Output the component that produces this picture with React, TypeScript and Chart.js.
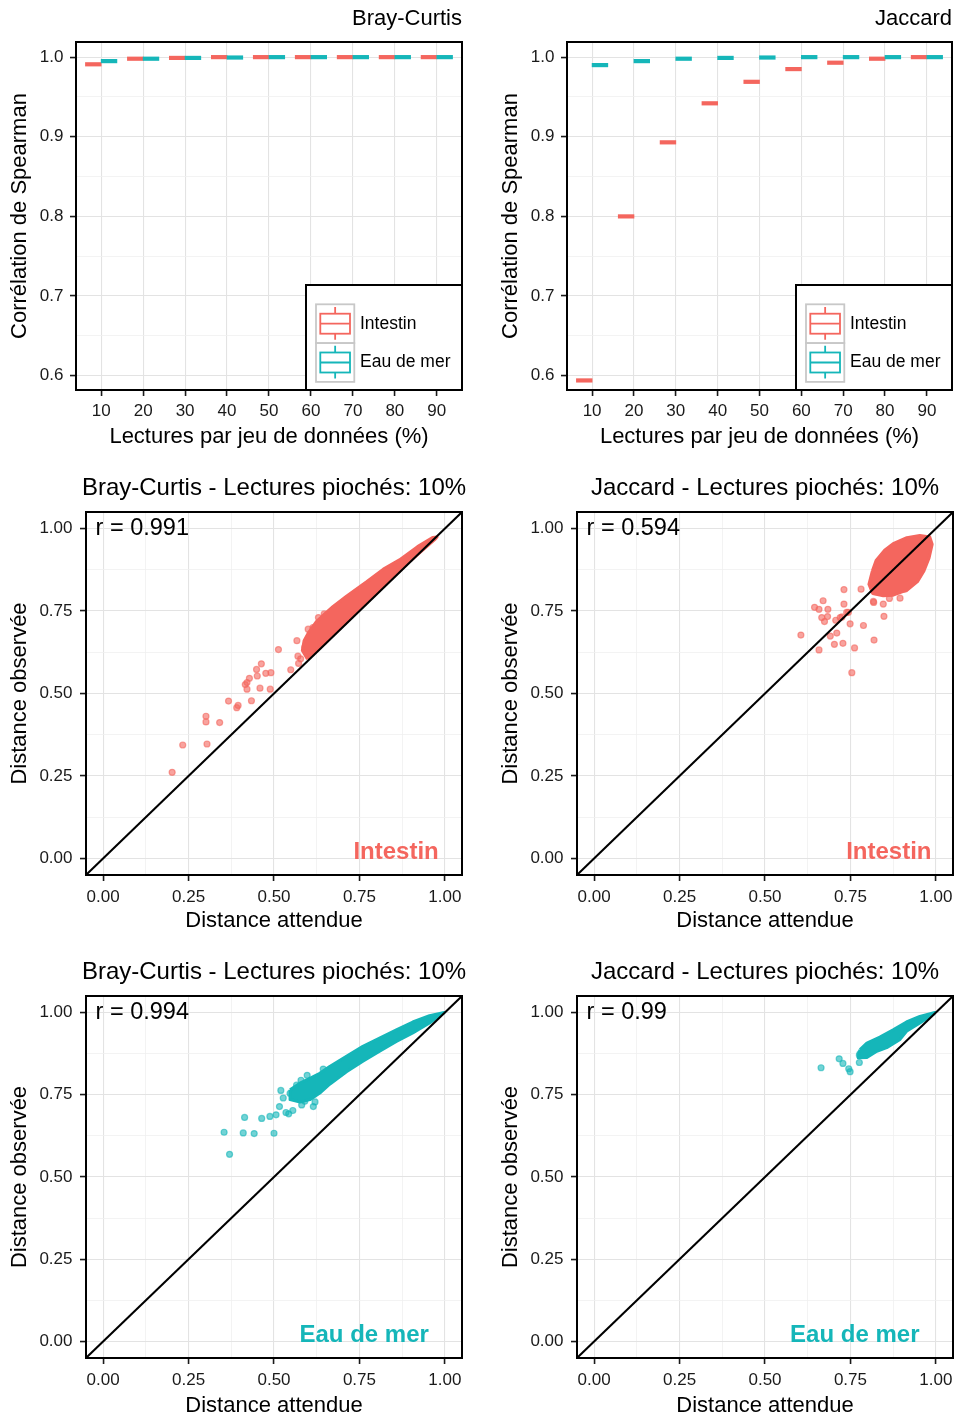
import React, { useEffect, useRef } from "react";
import { Chart, registerables } from "chart.js";

Chart.register(...registerables);

// ------------------------------------------------------------------ data
const PCT = [10, 20, 30, 40, 50, 60, 70, 80, 90];
const PCT_LABELS = ["10", "20", "30", "40", "50", "60", "70", "80", "90"];

// medians of Spearman correlation (boxes collapsed to a line)
const BC_INTESTIN = [0.991, 0.998, 0.999, 1.0, 1.0, 1.0, 1.0, 1.0, 1.0];
const BC_EAU = [0.995, 0.998, 0.999, 0.9995, 1.0, 1.0, 1.0, 1.0, 1.0];
const JAC_INTESTIN = [0.594, 0.8, 0.893, 0.942, 0.969, 0.985, 0.993, 0.998, 1.0];
const JAC_EAU = [0.99, 0.995, 0.998, 0.999, 0.9995, 1.0, 1.0, 1.0, 1.0];

const SPEAR_MAJOR = [0.6, 0.7, 0.8, 0.9, 1.0];
const SPEAR_MINOR = [0.65, 0.75, 0.85, 0.95];
const SPEAR_LABELS = ["0.6", "0.7", "0.8", "0.9", "1.0"];

const DIST_MAJOR = [0, 0.25, 0.5, 0.75, 1];
const DIST_MINOR = [0.125, 0.375, 0.625, 0.875];
const DIST_LABELS = ["0.00", "0.25", "0.50", "0.75", "1.00"];

const R_VALUES = [0.991, 0.594, 0.994, 0.99];

// Bray-Curtis / Intestin
const BC_INT_CLOUD: [number, number][] = [
  [0.598, 0.604], [0.583, 0.63], [0.588, 0.66], [0.6, 0.683], [0.624, 0.718],
  [0.65, 0.743], [0.673, 0.764], [0.712, 0.795], [0.77, 0.838], [0.82, 0.877],
  [0.867, 0.905], [0.92, 0.945], [0.964, 0.973], [0.977, 0.974], [0.97, 0.966],
  [0.9, 0.903], [0.8, 0.804], [0.7, 0.704], [0.64, 0.644], [0.598, 0.604],
];
const BC_INT_POINTS: [number, number][] = [
  [0.202, 0.261], [0.233, 0.344], [0.301, 0.431], [0.301, 0.414], [0.304, 0.347],
  [0.341, 0.412], [0.367, 0.477], [0.391, 0.457], [0.395, 0.464], [0.434, 0.478],
  [0.416, 0.527], [0.421, 0.533], [0.421, 0.513], [0.428, 0.546], [0.449, 0.573],
  [0.451, 0.553], [0.463, 0.59], [0.459, 0.516], [0.476, 0.561], [0.491, 0.563],
  [0.489, 0.513], [0.513, 0.633], [0.549, 0.572], [0.567, 0.66], [0.57, 0.613],
  [0.572, 0.591], [0.614, 0.7], [0.647, 0.741], [0.578, 0.605], [0.59, 0.64],
  [0.6, 0.695], [0.63, 0.73],
];

// Jaccard / Intestin
const JAC_INT_CLOUD: [number, number][] = [
  [0.814, 0.871], [0.825, 0.903], [0.85, 0.934], [0.875, 0.954], [0.915, 0.972],
  [0.953, 0.979], [0.982, 0.974], [0.989, 0.952], [0.98, 0.911], [0.965, 0.871],
  [0.946, 0.839], [0.915, 0.813], [0.875, 0.798], [0.846, 0.796], [0.815, 0.803],
  [0.804, 0.831], [0.814, 0.871],
];
const JAC_INT_POINTS: [number, number][] = [
  [0.605, 0.677], [0.645, 0.761], [0.658, 0.755], [0.67, 0.781], [0.684, 0.755],
  [0.666, 0.73], [0.674, 0.718], [0.683, 0.733], [0.658, 0.632], [0.691, 0.674],
  [0.703, 0.649], [0.71, 0.683], [0.707, 0.722], [0.725, 0.732], [0.731, 0.815],
  [0.731, 0.771], [0.739, 0.746], [0.728, 0.652], [0.749, 0.711], [0.754, 0.563],
  [0.762, 0.638], [0.781, 0.816], [0.788, 0.706], [0.818, 0.776], [0.819, 0.662],
  [0.846, 0.771], [0.848, 0.734], [0.864, 0.788], [0.895, 0.789], [0.909, 0.816],
  [0.817, 0.779], [0.744, 0.746], [0.72, 0.73],
];

// Bray-Curtis / Eau de mer
const BC_EAU_CLOUD: [number, number][] = [
  [0.547, 0.765], [0.576, 0.785], [0.605, 0.8], [0.634, 0.815], [0.663, 0.836],
  [0.712, 0.867], [0.76, 0.897], [0.809, 0.922], [0.858, 0.947], [0.906, 0.971],
  [0.955, 0.99], [0.998, 1.0], [0.955, 0.968], [0.906, 0.938], [0.858, 0.912],
  [0.809, 0.882], [0.76, 0.852], [0.712, 0.82], [0.663, 0.782], [0.634, 0.755],
  [0.605, 0.735], [0.576, 0.728], [0.547, 0.735], [0.547, 0.765],
];
const BC_EAU_POINTS: [number, number][] = [
  [0.354, 0.636], [0.37, 0.569], [0.41, 0.634], [0.414, 0.681], [0.442, 0.632],
  [0.464, 0.678], [0.488, 0.684], [0.5, 0.633], [0.506, 0.689], [0.516, 0.714],
  [0.52, 0.763], [0.527, 0.74], [0.535, 0.696], [0.543, 0.692], [0.555, 0.702],
  [0.566, 0.779], [0.579, 0.794], [0.581, 0.719], [0.615, 0.714], [0.597, 0.809],
  [0.644, 0.828], [0.547, 0.754], [0.59, 0.73], [0.56, 0.745], [0.62, 0.728],
];

// Jaccard / Eau de mer
const JAC_EAU_CLOUD: [number, number][] = [
  [0.778, 0.887], [0.798, 0.907], [0.836, 0.925], [0.875, 0.947], [0.914, 0.971],
  [0.953, 0.988], [0.997, 1.0], [0.992, 0.994], [0.953, 0.968], [0.914, 0.943],
  [0.895, 0.918], [0.856, 0.893], [0.827, 0.882], [0.798, 0.863], [0.773, 0.862],
  [0.778, 0.887],
];
const JAC_EAU_POINTS: [number, number][] = [
  [0.664, 0.832], [0.717, 0.859], [0.728, 0.845], [0.745, 0.829], [0.749, 0.82],
  [0.776, 0.848], [0.778, 0.875], [0.776, 0.87],
];

const GROUPS = ["Intestin", "Eau de mer"];

// ------------------------------------------------------------------ style
const FONT = '"Liberation Sans", Arial, Helvetica, sans-serif';
const RED = "#F4665E";
const TEAL = "#15B6B9";
const RED_A = "rgba(244,102,94,0.6)";
const TEAL_A = "rgba(21,182,185,0.6)";
const TICK_SIZE = 17;
const AXIS_TITLE_SIZE = 22;
const LH = AXIS_TITLE_SIZE * 1.2;
const DODGE = 1.875;
const SPEAR_RANGE = [0.582, 1.019];
const PCT_RANGE = [4, 96];
const DIST_RANGE = [-0.05, 1.05];

type Geo = {
  cx: number; cy: number; cw: number; ch: number;
  l: number; t: number; r: number; b: number;
  yTitleX: number; xTitleY: number;
};

const GEO: Geo[] = [
  { cx: 0, cy: 0, cw: 478, ch: 455, l: 76, t: 42, r: 462, b: 390, yTitleX: 20, xTitleY: 437 },
  { cx: 478, cy: 0, cw: 478, ch: 455, l: 567, t: 42, r: 952, b: 390, yTitleX: 511, xTitleY: 437 },
  { cx: 0, cy: 458, cw: 478, ch: 480, l: 86, t: 512, r: 462, b: 875, yTitleX: 20, xTitleY: 921 },
  { cx: 478, cy: 458, cw: 478, ch: 480, l: 577, t: 512, r: 953, b: 875, yTitleX: 511, xTitleY: 921 },
  { cx: 0, cy: 942, cw: 478, ch: 477, l: 86, t: 996, r: 462, b: 1358, yTitleX: 20, xTitleY: 1406 },
  { cx: 478, cy: 942, cw: 478, ch: 477, l: 577, t: 996, r: 953, b: 1358, yTitleX: 511, xTitleY: 1406 },
];

function isMajor(v: any, major: number[]) {
  return typeof v === "number" && major.some((m) => Math.abs(m - v) < 1e-9);
}

function axis(o: {
  min: number; max: number; major: number[]; minor: number[]; labels: string[];
  title: string; isX: boolean; g: Geo; tickPad: number;
}) {
  const all = [...o.major, ...o.minor].sort((a, b) => a - b);
  return {
    type: "linear",
    position: o.isX ? "bottom" : "left",
    min: o.min,
    max: o.max,
    bounds: "data",
    afterBuildTicks: (s: any) => {
      s.ticks = all.map((v) => ({ value: v }));
    },
    afterFit: (s: any) => {
      if (o.isX) s.height = o.g.xTitleY + LH / 2 - o.g.b;
      else s.width = o.g.l - o.g.cx;
      s.paddingLeft = 0; s.paddingRight = 0; s.paddingTop = 0; s.paddingBottom = 0;
    },
    ticks: {
      autoSkip: false, maxRotation: 0, minRotation: 0, padding: o.tickPad,
      color: "#1A1A1A", font: { size: TICK_SIZE, family: FONT },
      callback: (v: number) => {
        const i = o.major.findIndex((m) => Math.abs(m - v) < 1e-9);
        return i >= 0 ? o.labels[i] : "";
      },
    },
    grid: {
      drawOnChartArea: true, drawTicks: true, tickLength: 6,
      color: (c: any) => (isMajor(c.tick?.value, o.major) ? "#E3E3E3" : "#F0F0F0"),
      lineWidth: (c: any) => (isMajor(c.tick?.value, o.major) ? 1.1 : 0.8),
      tickColor: (c: any) => (isMajor(c.tick?.value, o.major) ? "#1A1A1A" : "rgba(0,0,0,0)"),
      tickWidth: 1.6,
    },
    border: { display: false },
    title: {
      display: true, text: o.title, color: "#000",
      font: { size: AXIS_TITLE_SIZE, family: FONT },
      padding: o.isX ? { top: 0, bottom: 0 } : { top: o.g.yTitleX - o.g.cx - LH / 2, bottom: 0 },
    },
  };
}

type Note = { text: string; x: number; y: number; align: string; baseline: string; font: string; color: string };
type Decor = {
  title: string; titleAlign: "right" | "center"; titleSize: number;
  notes?: Note[]; legend?: boolean;
};

function decorPlugin(spec: Decor) {
  return {
    id: "decor",
    afterDraw(chart: any) {
      const { ctx, chartArea: a, scales } = chart;
      ctx.save();
      ctx.strokeStyle = "#000";
      ctx.lineWidth = 2;
      ctx.strokeRect(a.left, a.top, a.right - a.left, a.bottom - a.top);

      ctx.fillStyle = "#000";
      ctx.font = `${spec.titleSize}px ${FONT}`;
      ctx.textAlign = spec.titleAlign;
      ctx.textBaseline = "alphabetic";
      const tx = spec.titleAlign === "right" ? a.right : (a.left + a.right) / 2;
      ctx.fillText(spec.title, tx, a.top - 17.5);

      for (const n of spec.notes || []) {
        ctx.font = `${n.font} ${FONT}`;
        ctx.fillStyle = n.color;
        ctx.textAlign = n.align as any;
        ctx.textBaseline = n.baseline as any;
        ctx.fillText(n.text, scales.x.getPixelForValue(n.x), scales.y.getPixelForValue(n.y));
      }

      if (spec.legend) {
        const w = 156, h = 105;
        const bx = a.right - w, by = a.bottom - h;
        ctx.fillStyle = "#fff";
        ctx.fillRect(bx, by, w, h);
        ctx.strokeStyle = "#000";
        ctx.lineWidth = 2;
        ctx.strokeRect(bx, by, w, h);
        const colors = [RED, TEAL];
        GROUPS.forEach((label, i) => {
          const kw = 38.3, kh = 38.8;
          const kx = bx + 10, ky = by + 19.3 + i * kh;
          ctx.fillStyle = "#fff";
          ctx.fillRect(kx, ky, kw, kh);
          ctx.strokeStyle = "#C8C8C8";
          ctx.lineWidth = 1.8;
          ctx.strokeRect(kx, ky, kw, kh);
          const gx = kx + 4.3, gw = 29.7, gy = ky + 9.4, gh = 20;
          const mx = kx + kw / 2;
          ctx.strokeStyle = colors[i];
          ctx.lineWidth = 1.8;
          ctx.strokeRect(gx, gy, gw, gh);
          ctx.beginPath();
          ctx.moveTo(gx, gy + gh / 2); ctx.lineTo(gx + gw, gy + gh / 2);
          ctx.moveTo(mx, ky + 2.7); ctx.lineTo(mx, gy);
          ctx.moveTo(mx, gy + gh); ctx.lineTo(mx, ky + 35.5);
          ctx.stroke();
          ctx.fillStyle = "#000";
          ctx.font = `17.5px ${FONT}`;
          ctx.textAlign = "left";
          ctx.textBaseline = "middle";
          ctx.fillText(label, bx + 54, ky + kh / 2);
        });
      }
      ctx.restore();
    },
  };
}

function baseOptions(g: Geo, scales: any) {
  return {
    animation: false,
    responsive: false,
    events: [],
    layout: {
      autoPadding: false,
      padding: {
        left: 0,
        top: g.t - g.cy,
        right: g.cx + g.cw - g.r,
        bottom: g.cy + g.ch - (g.xTitleY + LH / 2),
      },
    },
    plugins: { legend: { display: false }, tooltip: { enabled: false }, title: { display: false } },
    scales,
  };
}

function boxConfig(g: Geo, title: string, intVals: number[], eauVals: number[]) {
  const ds = (vals: number[], sign: number, color: string, label: string) => ({
    label,
    data: PCT.map((p, i) => ({ x: p + sign * DODGE, y: vals[i] })),
    pointStyle: "line",
    pointRadius: 8.2,
    pointHoverRadius: 8.2,
    pointBorderWidth: 4.2,
    pointBorderColor: color,
    pointBackgroundColor: color,
    borderColor: color,
    backgroundColor: color,
    showLine: false,
  });
  return {
    type: "scatter",
    data: { datasets: [ds(eauVals, 1, TEAL, GROUPS[1]), ds(intVals, -1, RED, GROUPS[0])] },
    options: baseOptions(g, {
      x: axis({ min: PCT_RANGE[0], max: PCT_RANGE[1], major: PCT, minor: [], labels: PCT_LABELS,
        title: "Lectures par jeu de données (%)", isX: true, g, tickPad: 5.5 }),
      y: axis({ min: SPEAR_RANGE[0], max: SPEAR_RANGE[1], major: SPEAR_MAJOR, minor: SPEAR_MINOR,
        labels: SPEAR_LABELS, title: "Corrélation de Spearman", isX: false, g, tickPad: 6.5 }),
    }),
    plugins: [decorPlugin({ title, titleAlign: "right", titleSize: 22, legend: true })],
  };
}

function scatterConfig(
  g: Geo, title: string, r: number, group: string, groupX: number,
  cloud: [number, number][], pts: [number, number][], color: string, colorA: string,
) {
  return {
    type: "scatter",
    data: {
      datasets: [
        {
          label: "y = x",
          data: DIST_RANGE.map((v) => ({ x: v, y: v })),
          showLine: true, borderColor: "#000", borderWidth: 2, pointRadius: 0, fill: false,
        },
        {
          label: group + " (dense)",
          data: cloud.map(([x, y]) => ({ x, y })),
          showLine: true, fill: "shape", backgroundColor: color, borderColor: color,
          borderWidth: 3, borderJoinStyle: "round", pointRadius: 0, tension: 0,
        },
        {
          label: group,
          data: pts.map(([x, y]) => ({ x, y })),
          showLine: false, pointRadius: 3, pointBackgroundColor: colorA,
          pointBorderColor: colorA, pointBorderWidth: 1.2, backgroundColor: colorA, borderColor: colorA,
        },
      ],
    },
    options: baseOptions(g, {
      x: axis({ min: DIST_RANGE[0], max: DIST_RANGE[1], major: DIST_MAJOR, minor: DIST_MINOR,
        labels: DIST_LABELS, title: "Distance attendue", isX: true, g, tickPad: 6 }),
      y: axis({ min: DIST_RANGE[0], max: DIST_RANGE[1], major: DIST_MAJOR, minor: DIST_MINOR,
        labels: DIST_LABELS, title: "Distance observée", isX: false, g, tickPad: 7.5 }),
    }),
    plugins: [
      decorPlugin({
        title, titleAlign: "center", titleSize: 24,
        notes: [
          { text: `r = ${r}`, x: -0.022, y: 1.0, align: "left", baseline: "middle", font: "23.5px", color: "#000" },
          { text: group, x: groupX, y: 0, align: "right", baseline: "alphabetic", font: "bold 24px", color },
        ],
      }),
    ],
  };
}

const CONFIGS = [
  () => boxConfig(GEO[0], "Bray-Curtis", BC_INTESTIN, BC_EAU),
  () => boxConfig(GEO[1], "Jaccard", JAC_INTESTIN, JAC_EAU),
  () => scatterConfig(GEO[2], "Bray-Curtis - Lectures piochés: 10%", R_VALUES[0], GROUPS[0], 0.982,
    BC_INT_CLOUD, BC_INT_POINTS, RED, RED_A),
  () => scatterConfig(GEO[3], "Jaccard - Lectures piochés: 10%", R_VALUES[1], GROUPS[0], 0.987,
    JAC_INT_CLOUD, JAC_INT_POINTS, RED, RED_A),
  () => scatterConfig(GEO[4], "Bray-Curtis - Lectures piochés: 10%", R_VALUES[2], GROUPS[1], 0.953,
    BC_EAU_CLOUD, BC_EAU_POINTS, TEAL, TEAL_A),
  () => scatterConfig(GEO[5], "Jaccard - Lectures piochés: 10%", R_VALUES[3], GROUPS[1], 0.952,
    JAC_EAU_CLOUD, JAC_EAU_POINTS, TEAL, TEAL_A),
];

export default function App() {
  const refs = useRef<(HTMLCanvasElement | null)[]>([]);
  useEffect(() => {
    Chart.defaults.font.family = FONT;
    const charts = CONFIGS.map((mk, i) => new Chart(refs.current[i] as HTMLCanvasElement, mk() as any));
    return () => charts.forEach((c) => c.destroy());
  }, []);
  return (
    <div style={{ position: "absolute", left: 0, top: 0, width: 956, height: 1419, background: "#fff" }}>
      {GEO.map((g, i) => (
        <canvas
          key={i}
          ref={(el) => { refs.current[i] = el; }}
          width={g.cw}
          height={g.ch}
          style={{ position: "absolute", left: g.cx, top: g.cy, width: g.cw, height: g.ch }}
        />
      ))}
    </div>
  );
}
